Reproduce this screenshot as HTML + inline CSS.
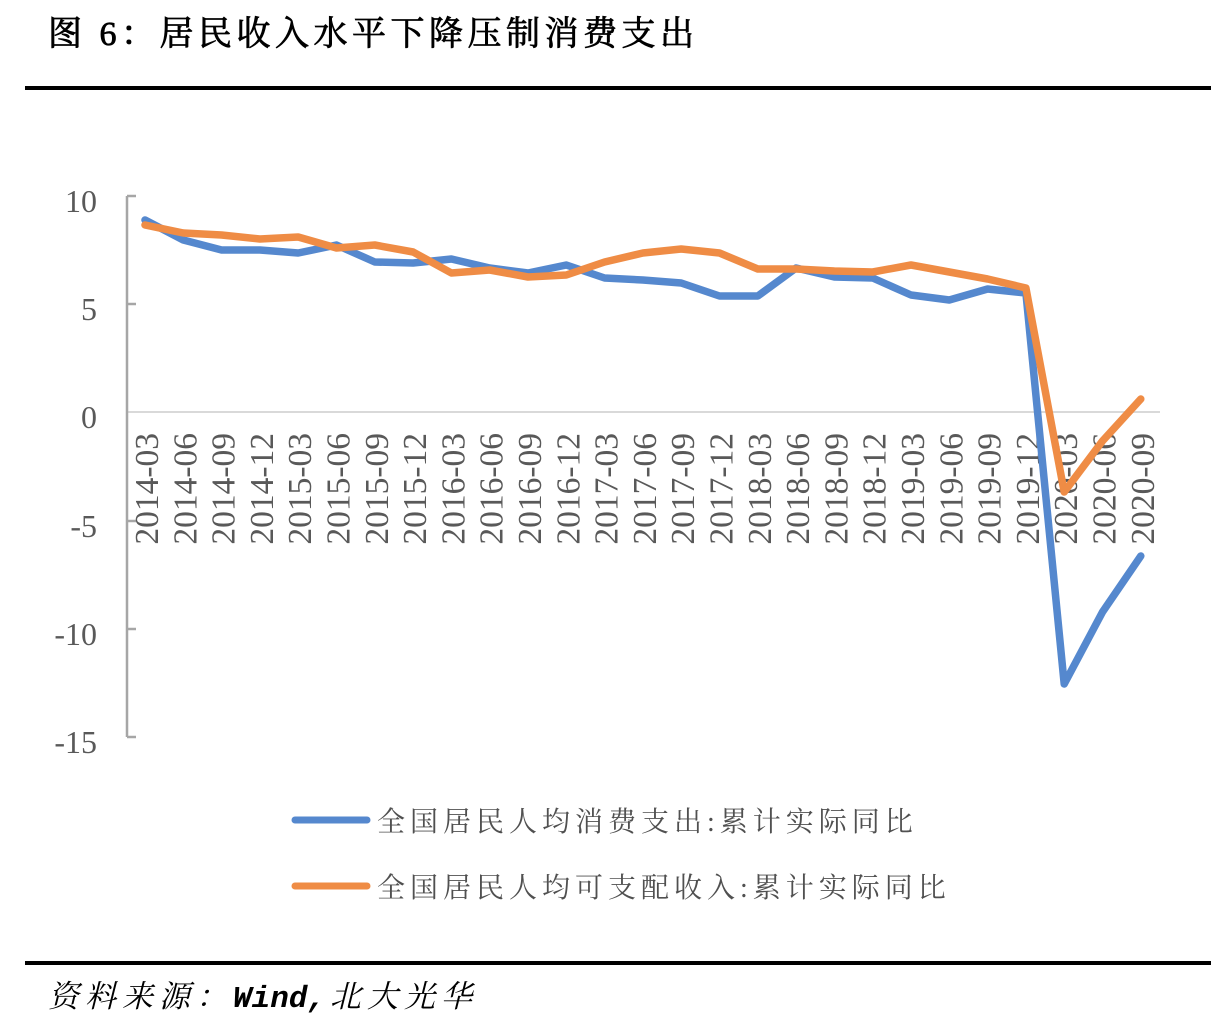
<!DOCTYPE html>
<html>
<head>
<meta charset="utf-8">
<style>
html,body{margin:0;padding:0;background:#fff;}
body{width:1226px;height:1030px;position:relative;overflow:hidden;}
.title{position:absolute;left:48px;top:12px;font-family:"Liberation Serif","Noto Serif CJK SC",serif;font-size:34px;font-weight:normal;-webkit-text-stroke:0.8px #000;letter-spacing:4.5px;color:#000;white-space:nowrap;line-height:46px;}
.rule{position:absolute;left:25px;width:1186px;height:4px;background:#000;}
.src{position:absolute;left:48px;top:976px;font-family:"Liberation Serif","Noto Serif CJK SC",serif;font-size:31px;font-style:italic;letter-spacing:6px;color:#000;white-space:nowrap;line-height:42px;}
.src .w{font-family:"Liberation Mono",monospace;font-weight:bold;letter-spacing:0;margin-right:4px;}
</style>
</head>
<body>
<div class="title">图 6：居民收入水平下降压制消费支出</div>
<div class="rule" style="top:86px;"></div>
<svg width="1226" height="1030" style="position:absolute;left:0;top:0;" xmlns="http://www.w3.org/2000/svg">
  <line x1="127" y1="412" x2="1160" y2="412" stroke="#d9d9d9" stroke-width="2"/>
  <line x1="127" y1="196" x2="127" y2="737" stroke="#a6a6a6" stroke-width="2.5"/>
  <g stroke="#a6a6a6" stroke-width="2.5">
    <line x1="127" y1="196" x2="136" y2="196"/>
    <line x1="127" y1="304" x2="136" y2="304"/>
    <line x1="127" y1="521" x2="136" y2="521"/>
    <line x1="127" y1="629" x2="136" y2="629"/>
    <line x1="127" y1="737" x2="136" y2="737"/>
  </g>
  <g font-family="Liberation Serif, serif" font-size="32" fill="#595959" text-anchor="end">
    <text x="97" y="212">10</text>
    <text x="97" y="320">5</text>
    <text x="97" y="428">0</text>
    <text x="97" y="537">-5</text>
    <text x="97" y="645">-10</text>
    <text x="97" y="753">-15</text>
  </g>
  <g font-family="Liberation Serif, serif" font-size="33.5" fill="#595959" text-anchor="end">
    <text transform="translate(158,433) rotate(-90)">2014-03</text>
    <text transform="translate(196.3,433) rotate(-90)">2014-06</text>
    <text transform="translate(234.6,433) rotate(-90)">2014-09</text>
    <text transform="translate(272.9,433) rotate(-90)">2014-12</text>
    <text transform="translate(311.2,433) rotate(-90)">2015-03</text>
    <text transform="translate(349.5,433) rotate(-90)">2015-06</text>
    <text transform="translate(387.8,433) rotate(-90)">2015-09</text>
    <text transform="translate(426.1,433) rotate(-90)">2015-12</text>
    <text transform="translate(464.4,433) rotate(-90)">2016-03</text>
    <text transform="translate(502.7,433) rotate(-90)">2016-06</text>
    <text transform="translate(541,433) rotate(-90)">2016-09</text>
    <text transform="translate(579.3,433) rotate(-90)">2016-12</text>
    <text transform="translate(617.6,433) rotate(-90)">2017-03</text>
    <text transform="translate(655.9,433) rotate(-90)">2017-06</text>
    <text transform="translate(694.2,433) rotate(-90)">2017-09</text>
    <text transform="translate(732.5,433) rotate(-90)">2017-12</text>
    <text transform="translate(770.8,433) rotate(-90)">2018-03</text>
    <text transform="translate(809.1,433) rotate(-90)">2018-06</text>
    <text transform="translate(847.4,433) rotate(-90)">2018-09</text>
    <text transform="translate(885.7,433) rotate(-90)">2018-12</text>
    <text transform="translate(924,433) rotate(-90)">2019-03</text>
    <text transform="translate(962.3,433) rotate(-90)">2019-06</text>
    <text transform="translate(1000.6,433) rotate(-90)">2019-09</text>
    <text transform="translate(1038.9,433) rotate(-90)">2019-12</text>
    <text transform="translate(1077.2,433) rotate(-90)">2020-03</text>
    <text transform="translate(1115.5,433) rotate(-90)">2020-06</text>
    <text transform="translate(1153.8,433) rotate(-90)">2020-09</text>
  </g>
  <polyline fill="none" stroke="#5588CE" stroke-width="7.5" stroke-linejoin="round" stroke-linecap="round"
    points="145,220 183.3,240 221.6,250 259.9,250 298.2,253 336.5,245 374.8,262 413.1,263 451.4,259 489.7,268 528,273 566.3,265 604.6,278 642.9,280 681.2,283 719.5,296 757.8,296 796.1,268 834.4,277 872.7,278 911,295 949.3,300 987.6,289 1025.9,293 1064.2,684 1102.5,612 1140.8,556"/>
  <polyline fill="none" stroke="#EF8C45" stroke-width="7.5" stroke-linejoin="round" stroke-linecap="round"
    points="145,225 183.3,233 221.6,235 259.9,239 298.2,237 336.5,248 374.8,245 413.1,252 451.4,273 489.7,270 528,277 566.3,275 604.6,262 642.9,253 681.2,249 719.5,253 757.8,269 796.1,269 834.4,271 872.7,272 911,265 949.3,272 987.6,279 1025.9,288 1064.2,492 1102.5,441 1140.8,399"/>
  <line x1="295" y1="820" x2="367" y2="820" stroke="#5588CE" stroke-width="7" stroke-linecap="round"/>
  <line x1="295" y1="886" x2="367" y2="886" stroke="#EF8C45" stroke-width="7" stroke-linecap="round"/>
  <g font-family="Liberation Serif, Noto Serif CJK SC, serif" font-size="28" fill="#505050" letter-spacing="5">
    <text x="377" y="831">全国居民人均消费支出:累计实际同比</text>
    <text x="377" y="897">全国居民人均可支配收入:累计实际同比</text>
  </g>
</svg>
<div class="rule" style="top:961px;"></div>
<div class="src">资料来源：<span class="w">Wind,</span>北大光华</div>
</body>
</html>
